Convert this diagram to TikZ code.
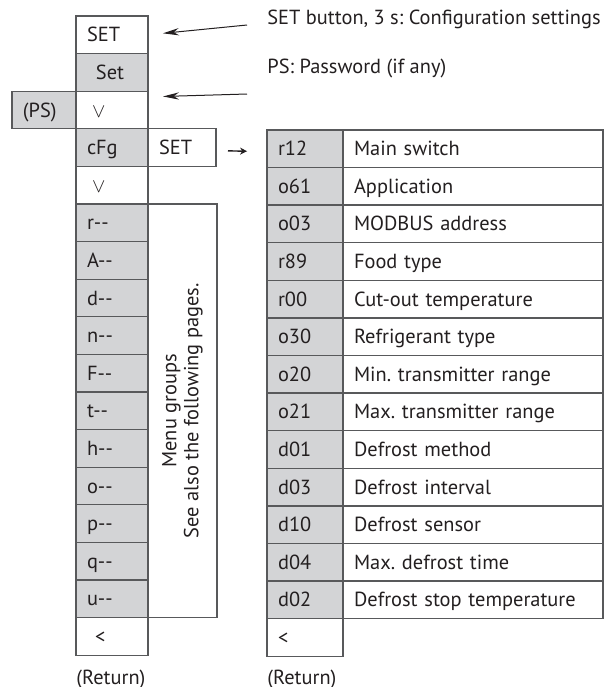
\documentclass[tikz,border=0pt]{standalone}
\usepackage{fontspec}
\setmainfont{PT Sans}
\usetikzlibrary{arrows.meta, positioning, matrix}
\definecolor{cellgrey}{RGB}{211,212,214}
\definecolor{rulegrey}{RGB}{88,89,91}
\definecolor{inkgrey}{RGB}{35,31,32}
\frenchspacing

\begin{document}
\begin{tikzpicture}[x=0.5pt, y=-0.5pt,
    every node/.style={font=\fontsize{10.2}{11}\selectfont, text=inkgrey},
    cell/.style={draw=rulegrey, line width=0.65pt, outer sep=0pt,
        inner xsep=5.5pt, inner ysep=0pt, minimum height=18.8pt,
        text height=7pt, text depth=0pt, align=left},
    wcell/.style={cell, fill=white},
    gcell/.style={cell, fill=cellgrey},
    keycol/.style={text width=25pt},
    note/.style={inner sep=0pt, anchor=base west},
    pointer/.style={-{Stealth[length=8pt, width=3.6pt]}, line width=0.5pt, draw=inkgrey}]

    \useasboundingbox (0,0) rectangle (606,687);

    % left column: key sequence
    \node[wcell, keycol, anchor=north west] (setkey) at (76,16) {SET};
    \node[gcell, keycol, below=0pt of setkey] (setmsg) {\hspace{4.5pt}Set};
    \node[wcell, keycol, below=0pt of setmsg] (down1) {\hspace{2.5pt}$\vee$};
    \node[gcell, text width=21pt, left=0pt of down1] (pass) {(PS)};
    \node[gcell, keycol, below=0pt of down1] (cfg) {cFg};
    \node[wcell, text width=23pt, right=0pt of cfg] (cfgset) {SET};
    \node[wcell, keycol, below=0pt of cfg, alias=m0] (down2) {\hspace{2.5pt}$\vee$};

    \foreach \g [count=\i, remember=\i as \p (initially 0)] in {r,A,d,n,F,t,h,o,p,q,u}
        \node[gcell, keycol, below=0pt of m\p] (m\i) {\g{-}{-}};

    \node[wcell, keycol, below=0pt of m11] (back1) {\hspace{4pt}<};
    \node[note] (ret1) at (back1.west |- 0,684) {(Return)};

    \node[cell, inner sep=0pt, minimum width=34.5pt, minimum height=206.8pt,
        anchor=north west] (grp) at (m1.north east) {};
    \node[rotate=90, align=center] (grptxt) at (grp.center)
        {Menu groups\\See also the following pages.};

    % right column: configuration parameters
    \matrix (tab) [matrix of nodes, inner sep=0pt,
        row sep=-0.65pt, column sep=-0.65pt,
        right=25pt of cfgset.north east, anchor=north west,
        column 1/.style={nodes={gcell, text width=27pt}},
        column 2/.style={nodes={wcell, text width=119pt}},
        row 14/.style={nodes={fill=white}}]
    {
        r12 & Main switch \\
        o61 & Application \\
        o03 & MODBUS address \\
        r89 & Food type \\
        r00 & Cut-out temperature \\
        o30 & Refrigerant type \\
        o20 & Min. transmitter range \\
        o21 & Max. transmitter range \\
        d01 & Defrost method \\
        d03 & Defrost interval \\
        d10 & Defrost sensor \\
        d04 & Max. defrost time \\
        d02 & Defrost stop temperature \\
        <   \\
    };
    \node[note] (ret2) at (tab-14-1.west |- 0,684) {(Return)};

    % notes and arrows
    \node[note] (cfgnote) at (267,24) {SET button, 3 s: Configuration settings};
    \node[note] (psnote) at (267,73) {PS: Password (if any)};
    \coordinate (cfgtail) at (247,25);
    \coordinate (pstail) at (247,94);

    \draw[pointer, shorten >=7.5pt] (cfgtail) -- (setkey.east);
    \draw[pointer, shorten >=7.5pt] (pstail) -- (down1.20);
    \draw[-{Stealth[length=3.5pt, width=3.5pt]}, line width=0.7pt, draw=inkgrey,
        shorten <=6pt, shorten >=10pt]
        ([yshift=-1.5pt]cfgset.east) -- ([yshift=-1.5pt]tab-1-1.west);
\end{tikzpicture}
\end{document}
